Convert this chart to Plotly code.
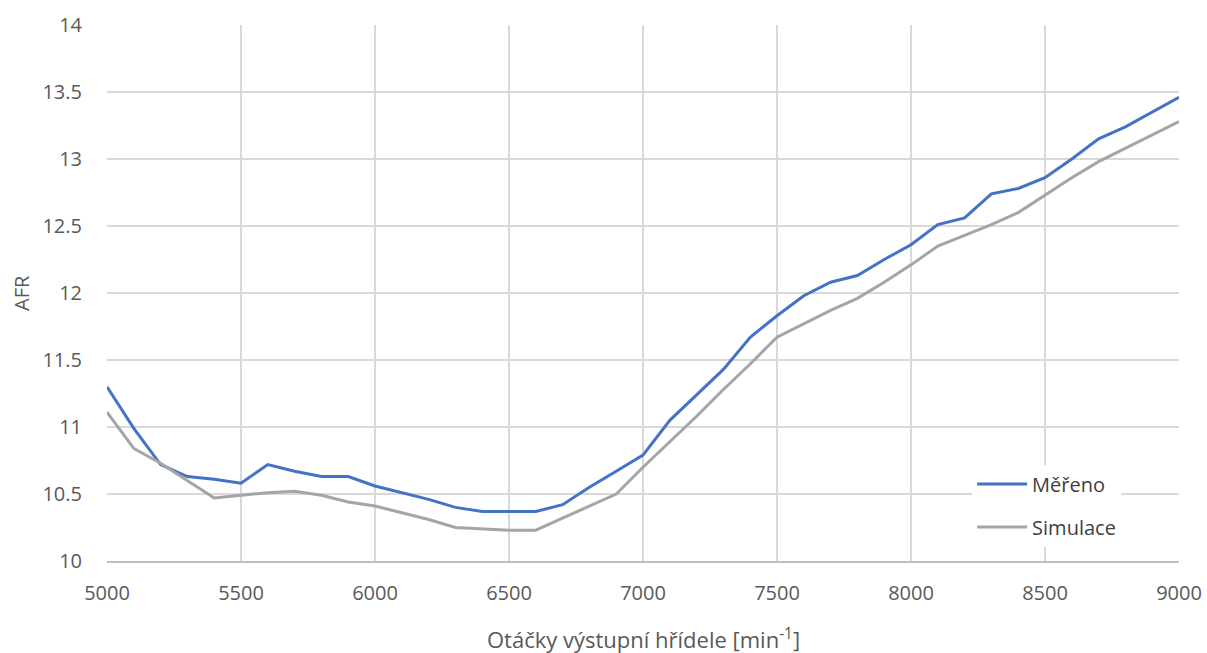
import plotly.graph_objects as go

rpm = [5000, 5100, 5200, 5300, 5400, 5500, 5600, 5700, 5800, 5900,
       6000, 6100, 6200, 6300, 6400, 6500, 6600, 6700, 6800, 6900,
       7000, 7100, 7200, 7300, 7400, 7500, 7600, 7700, 7800, 7900,
       8000, 8100, 8200, 8300, 8400, 8500, 8600, 8700, 8800, 8900, 9000]

mereno = [11.30, 10.99, 10.72, 10.63, 10.61, 10.58, 10.72, 10.67, 10.63, 10.63,
          10.56, 10.51, 10.46, 10.40, 10.37, 10.37, 10.37, 10.42, 10.55, 10.67,
          10.79, 11.05, 11.24, 11.43, 11.67, 11.83, 11.98, 12.08, 12.13, 12.25,
          12.36, 12.51, 12.56, 12.74, 12.78, 12.86, 13.00, 13.15, 13.24, 13.35, 13.46]

simulace = [11.11, 10.84, 10.73, 10.60, 10.47, 10.49, 10.51, 10.52, 10.49, 10.44,
            10.41, 10.36, 10.31, 10.25, 10.24, 10.23, 10.23, 10.32, 10.41, 10.50,
            10.70, 10.89, 11.08, 11.28, 11.47, 11.67, 11.77, 11.87, 11.96, 12.08,
            12.21, 12.35, 12.43, 12.51, 12.60, 12.73, 12.86, 12.98, 13.08, 13.18, 13.28]

x_ticks = [5000, 5500, 6000, 6500, 7000, 7500, 8000, 8500, 9000]
y_ticks = [10, 10.5, 11, 11.5, 12, 12.5, 13, 13.5, 14]
y_labels = ["10", "10.5", "11", "11.5", "12", "12.5", "13", "13.5", "14"]
x_title = "Otáčky výstupní hřídele [min<sup>-1</sup>]"
y_title = "AFR"

FONT = "'Open Sans', Lato, sans-serif"
TXT = "#595959"

fig = go.Figure()
fig.add_trace(go.Scatter(x=rpm, y=mereno, mode="lines", name="Měřeno",
                         legendgroup="a",
                         line=dict(color="#4472C4", width=3)))
fig.add_trace(go.Scatter(x=rpm, y=simulace, mode="lines", name="Simulace",
                         legendgroup="b",
                         line=dict(color="#A5A5A5", width=3)))

fig.update_layout(
    width=1207, height=653,
    margin=dict(l=107, r=28, t=25, b=92),
    paper_bgcolor="white", plot_bgcolor="white",
    font=dict(family=FONT, color=TXT, size=20),
    showlegend=True,
    legend=dict(x=0.807, y=0.18, xanchor="left", yanchor="top",
                bgcolor="white", font=dict(size=20, color="#404040"),
                itemwidth=50, tracegroupgap=14, borderwidth=0),
    xaxis=dict(range=[5000, 9000], tickvals=x_ticks,
               ticktext=[str(v) for v in x_ticks], automargin=False,
               showgrid=True, gridcolor="#D9D9D9", gridwidth=2,
               zeroline=False, showline=True, linecolor="#BFBFBF", linewidth=2,
               ticks="outside", ticklen=13, tickcolor="rgba(0,0,0,0)",
               tickfont=dict(size=20, color=TXT)),
    yaxis=dict(range=[10, 14], tickvals=y_ticks, ticktext=y_labels,
               automargin=False,
               showgrid=True, gridcolor="#D9D9D9", gridwidth=2,
               zeroline=False, showline=False,
               ticks="outside", ticklen=20, tickcolor="rgba(0,0,0,0)",
               tickfont=dict(size=20, color=TXT)),
    annotations=[
        dict(text=x_title, xref="paper", yref="paper", x=0.5, y=0,
             xanchor="center", yanchor="middle", yshift=-77, showarrow=False,
             font=dict(size=22, color=TXT)),
        dict(text=y_title, xref="paper", yref="paper", x=0, y=0.5,
             xanchor="center", yanchor="middle", xshift=-86, textangle=-90,
             showarrow=False, font=dict(size=20, color=TXT)),
    ],
)

fig.write_html(
    "out.html",
    config={"displayModeBar": False},
    post_script="document.body.style.margin='0px';document.body.style.overflow='hidden';",
)
